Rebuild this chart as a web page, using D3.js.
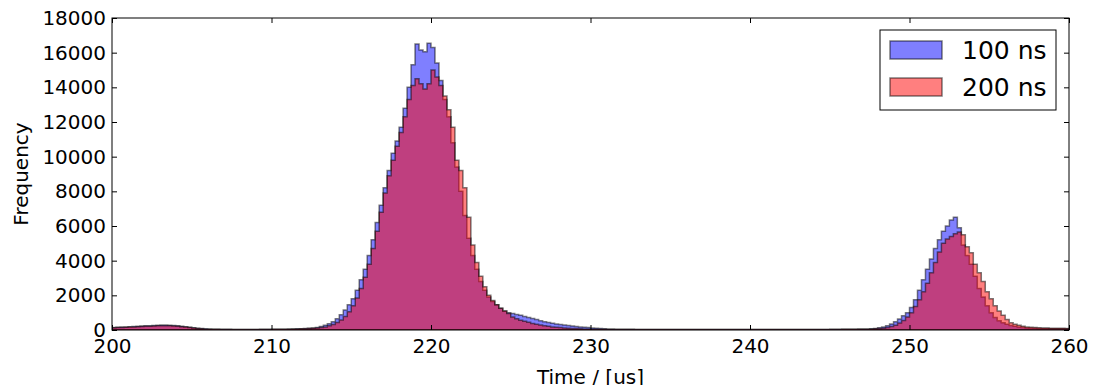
<!DOCTYPE html>
<html>
<head>
<meta charset="utf-8">
<script src="https://cdn.jsdelivr.net/npm/d3@7"></script>
<style>
  body { margin: 0; background: #fff; }
  svg { display: block; font-family: "DejaVu Sans", sans-serif; }
</style>
</head>
<body>
<svg id="chart" width="1105" height="385"></svg>
<script>
// histogram counts, bins of 0.25 us from 200 to 260 us (one row = one us)
const counts100 = [
  150, 160, 170, 180,
  190, 200, 210, 230,
  240, 250, 260, 270,
  290, 285, 280, 260,
  240, 210, 190, 160,
  130, 100, 80, 65,
  55, 50, 45, 40,
  40, 38, 36, 35,
  35, 35, 35, 35,
  35, 38, 40, 40,
  42, 45, 48, 50,
  55, 60, 65, 75,
  85, 100, 120, 150,
  200, 270, 360, 480,
  650, 880, 1150, 1450,
  1800, 2300, 2900, 3500,
  4300, 5200, 6200, 7200,
  8200, 9200, 10200, 10900,
  11700, 12800, 14000, 15300,
  16500, 16150, 16050, 16550,
  16300, 15400, 14400, 13300,
  12300, 10800, 9400, 8000,
  6600, 5300, 4300, 3500,
  2800, 2300, 1900, 1650,
  1450, 1250, 1100, 1000,
  950, 900, 850, 780,
  720, 660, 600, 540,
  480, 430, 390, 350,
  320, 290, 260, 230,
  200, 180, 160, 140,
  120, 100, 85, 70,
  60, 55, 50, 45,
  42, 40, 38, 36,
  35, 34, 33, 32,
  31, 30, 30, 29,
  29, 28, 28, 27,
  27, 27, 26, 26,
  26, 25, 25, 25,
  25, 25, 24, 24,
  24, 24, 24, 24,
  24, 24, 24, 24,
  24, 25, 25, 25,
  25, 26, 26, 27,
  27, 28, 29, 30,
  31, 32, 34, 35,
  37, 39, 41, 43,
  45, 47, 50, 53,
  56, 62, 72, 90,
  130, 170, 250, 350,
  480, 640, 820, 1000,
  1300, 1750, 2300, 2900,
  3500, 4100, 4700, 5200,
  5700, 6000, 6350, 6500,
  5900, 4900, 4300, 3800,
  3100, 2400, 1900, 1400,
  1000, 720, 540, 420,
  330, 260, 210, 170,
  140, 120, 105, 95,
  90, 85, 80, 78,
  75, 72, 70, 68
];

const counts200 = [
  130, 140, 150, 160,
  170, 180, 190, 200,
  210, 220, 230, 240,
  250, 250, 240, 230,
  210, 190, 170, 140,
  110, 85, 65, 50,
  45, 40, 38, 35,
  35, 33, 32, 32,
  32, 32, 32, 32,
  32, 33, 35, 36,
  38, 40, 42, 45,
  48, 52, 58, 65,
  72, 82, 95, 115,
  140, 180, 240, 320,
  430, 580, 780, 1050,
  1400, 1850, 2400, 3050,
  3800, 4700, 5700, 6800,
  7900, 8900, 9800, 10600,
  11400, 12300, 13300, 14100,
  14500, 14200, 13900, 14200,
  15000, 14600, 14100, 13500,
  12700, 11700, 9800, 9200,
  8200, 6500, 4900, 3900,
  3100, 2500, 2000, 1700,
  1450, 1250, 1100, 950,
  750, 650, 560, 500,
  440, 380, 330, 290,
  250, 210, 180, 160,
  140, 120, 100, 90,
  80, 70, 60, 55,
  50, 45, 40, 38,
  35, 34, 33, 32,
  32, 31, 30, 30,
  29, 28, 28, 27,
  27, 26, 26, 25,
  25, 25, 24, 24,
  24, 23, 23, 23,
  23, 22, 22, 22,
  22, 22, 22, 22,
  22, 22, 22, 22,
  22, 22, 22, 22,
  22, 22, 23, 23,
  23, 23, 24, 24,
  25, 25, 26, 27,
  28, 29, 30, 31,
  32, 34, 35, 37,
  38, 40, 42, 44,
  46, 50, 55, 65,
  80, 100, 140, 200,
  280, 400, 550, 750,
  1000, 1350, 1750, 2200,
  2700, 3300, 3900, 4500,
  5000, 5250, 5400, 5550,
  5650, 5500, 4800, 4450,
  3800, 3300, 2800, 2200,
  1800, 1400, 1100, 850,
  600, 420, 330, 270,
  220, 180, 160, 140,
  125, 115, 110, 105,
  100, 98, 95, 92
];

const xTicks = [200, 210, 220, 230, 240, 250, 260];
const yTicks = [0, 2000, 4000, 6000, 8000, 10000, 12000, 14000, 16000, 18000];
const seriesNames = ["100 ns", "200 ns"];
const seriesColors = ["#0000ff", "#ff0000"];

const binStart = 200, binWidth = 0.25;

const svg = d3.select("#chart");
const pL = 112, pR = 1069, pT = 18, pB = 330;

const x = d3.scaleLinear().domain([200, 260]).range([pL, pR]);
const y = d3.scaleLinear().domain([0, 18000]).range([pB, pT]);

svg.append("clipPath").attr("id", "plotclip")
  .append("rect")
  .attr("x", pL).attr("y", pT)
  .attr("width", pR - pL).attr("height", pB - pT);

// step points: each bin's left edge, plus the closing right edge
function stepPoints(counts) {
  const pts = counts.map((c, i) => [binStart + i * binWidth, c]);
  pts.push([binStart + counts.length * binWidth, counts[counts.length - 1]]);
  return pts;
}

const area = d3.area()
  .curve(d3.curveStepAfter)
  .x(d => x(d[0]))
  .y0(y(0))
  .y1(d => y(d[1]));

const plot = svg.append("g").attr("clip-path", "url(#plotclip)");

[counts100, counts200].forEach((counts, i) => {
  plot.append("path")
    .attr("d", area(stepPoints(counts)))
    .attr("fill", seriesColors[i])
    .attr("fill-opacity", 0.5)
    .attr("stroke", "#000")
    .attr("stroke-opacity", 0.5)
    .attr("stroke-width", 1.5);
});

// axes, ticks pointing inward like matplotlib classic
const fmt = d3.format("d");
const axB = svg.append("g").attr("transform", `translate(0,${pB})`)
  .call(d3.axisBottom(x).tickValues(xTicks).tickFormat(fmt).tickSizeInner(-5).tickSizeOuter(0).tickPadding(9));
const axL = svg.append("g").attr("transform", `translate(${pL},0)`)
  .call(d3.axisLeft(y).tickValues(yTicks).tickFormat(fmt).tickSizeInner(-5).tickSizeOuter(0).tickPadding(6));
const axT = svg.append("g").attr("transform", `translate(0,${pT})`)
  .call(d3.axisTop(x).tickValues(xTicks).tickSizeInner(-5).tickSizeOuter(0).tickFormat(""));
const axR = svg.append("g").attr("transform", `translate(${pR},0)`)
  .call(d3.axisRight(y).tickValues(yTicks).tickSizeInner(-5).tickSizeOuter(0).tickFormat(""));

[axB, axL, axT, axR].forEach(ax => {
  ax.select(".domain").remove();
  ax.selectAll("line").attr("stroke", "#000");
  ax.selectAll("text").attr("fill", "#000")
    .style("font-size", "20px").style("font-family", "DejaVu Sans");
});

svg.append("rect")
  .attr("x", pL).attr("y", pT)
  .attr("width", pR - pL).attr("height", pB - pT)
  .attr("fill", "none").attr("stroke", "#000").attr("stroke-width", 1);

// axis labels
svg.append("text")
  .attr("transform", `translate(28,${(pT + pB) / 2}) rotate(-90)`)
  .attr("text-anchor", "middle")
  .style("font-size", "20px")
  .text("Frequency");

svg.append("text")
  .attr("x", (pL + pR) / 2).attr("y", 384)
  .attr("text-anchor", "middle")
  .style("font-size", "20px")
  .text("Time / [us]");

// legend
const lg = svg.append("g");
lg.append("rect")
  .attr("x", 880).attr("y", 30).attr("width", 176).attr("height", 80)
  .attr("fill", "#fff").attr("stroke", "#000").attr("stroke-width", 1);

seriesNames.forEach((name, i) => {
  const cy = 50 + i * 37;
  lg.append("rect")
    .attr("x", 890).attr("y", cy - 9).attr("width", 52).attr("height", 18)
    .attr("fill", seriesColors[i]).attr("fill-opacity", 0.5)
    .attr("stroke", "#000").attr("stroke-opacity", 0.5).attr("stroke-width", 1.5);
  lg.append("text")
    .attr("x", 962).attr("y", cy + 9)
    .style("font-size", "25px")
    .text(name);
});
</script>
</body>
</html>
